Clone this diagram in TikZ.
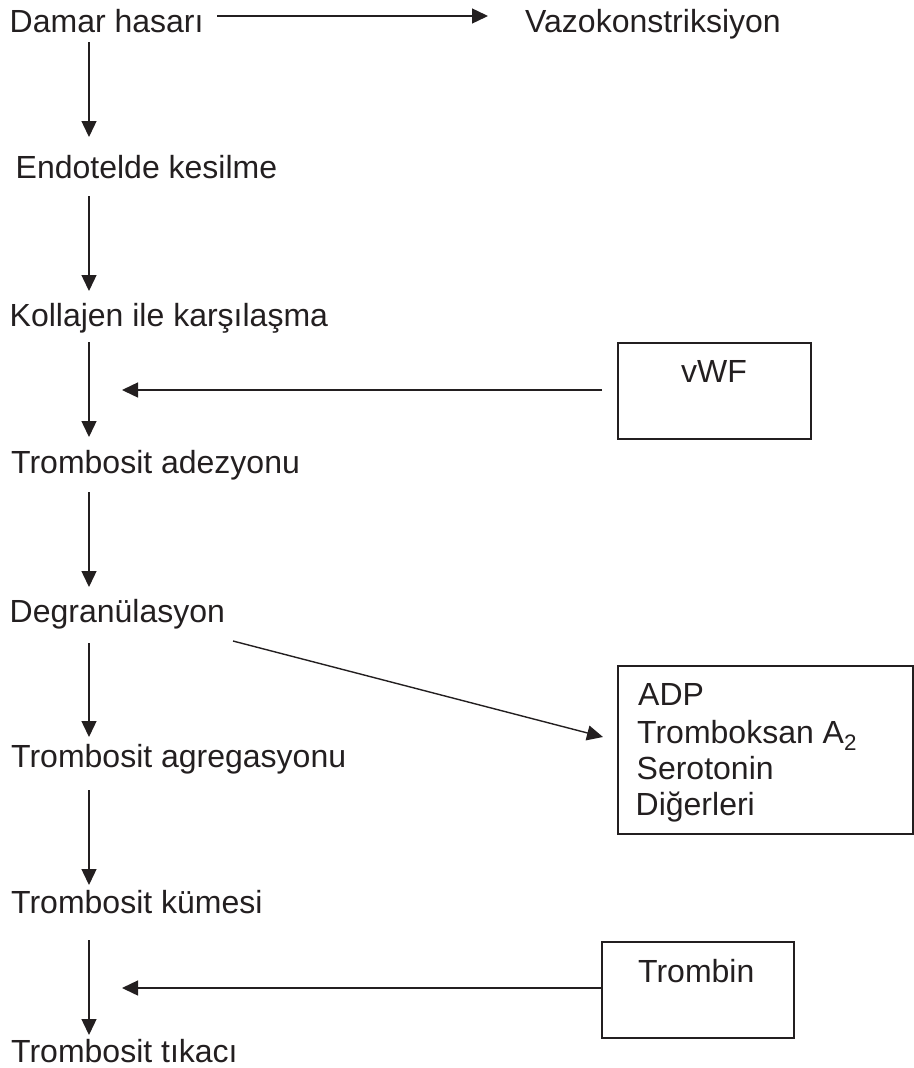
\documentclass[tikz,border=0pt]{standalone}
\usepackage{fontspec}
\setmainfont{Liberation Sans}
\usetikzlibrary{arrows.meta}
\definecolor{ink}{HTML}{231F20}
\begin{document}
\begin{tikzpicture}[x=1pt,y=-1pt,
  lbl/.style={anchor=base west, inner sep=0pt, font=\fontsize{32}{38}\selectfont, text=ink},
  arr/.style={draw=ink, line width=1.4pt, -{Triangle[length=16pt,width=15pt]}},
  boxnode/.style={draw=ink, line width=1.6pt, inner sep=0pt, anchor=north west}]
\useasboundingbox (0,0) rectangle (913,1068);

% texts
\node[lbl] (damar) at (9.5,32) {Damar hasarı};
\node[lbl] (vazo) at (525,32) {Vazokonstriksiyon};
\node[lbl] (endo) at (15.5,178) {Endotelde kesilme};
\node[lbl] (koll) at (9.5,326) {Kollajen ile karşılaşma};
\node[lbl] (adez) at (11,473) {Trombosit adezyonu};
\node[lbl] (degr) at (9.5,622) {Degranülasyon};
\node[lbl] (agre) at (11,767) {Trombosit agregasyonu};
\node[lbl] (kume) at (11,913) {Trombosit kümesi};
\node[lbl] (tika) at (11,1062) {Trombosit tıkacı};

% boxes
\node[boxnode, minimum width=193pt, minimum height=96pt] (vwf) at (617,342) {};
\node[lbl] (vwft) at (681,382) {vWF};
\node[boxnode, minimum width=295pt, minimum height=168pt] (adp) at (617,665) {};
\node[lbl] (adp1) at (638,705) {ADP};
\node[lbl] (adp2) at (637,743) {Tromboksan A\textsubscript{2}};
\node[lbl] (adp3) at (636.5,779) {Serotonin};
\node[lbl] (adp4) at (635.5,815) {Diğerleri};
\node[boxnode, minimum width=192pt, minimum height=96pt] (tromb) at (601,941) {};
\node[lbl] (trombt) at (638,982) {Trombin};

% arrow end points
\coordinate (h1s) at (217,16);   \coordinate (h1e) at (488,16);
\coordinate (a1s) at (89,42);    \coordinate (a1e) at (89,137);
\coordinate (a2s) at (89,196);   \coordinate (a2e) at (89,291);
\coordinate (a3s) at (89,342);   \coordinate (a3e) at (89,437);
\coordinate (a4s) at (89,492);   \coordinate (a4e) at (89,587);
\coordinate (a5s) at (89,643);   \coordinate (a5e) at (89,737);
\coordinate (a6s) at (89,790);   \coordinate (a6e) at (89,885);
\coordinate (a7s) at (89,940);   \coordinate (a7e) at (89,1035);
\coordinate (h2s) at (602,390);  \coordinate (h2e) at (122,390);
\coordinate (h3e) at (122,988);
\coordinate (ds) at (233,641);   \coordinate (de) at (603,737);

% connectors
\draw[arr] (h1s) -- (h1e);
\draw[arr] (a1s) -- (a1e);
\draw[arr] (a2s) -- (a2e);
\draw[arr] (a3s) -- (a3e);
\draw[arr] (a4s) -- (a4e);
\draw[arr] (a5s) -- (a5e);
\draw[arr] (a6s) -- (a6e);
\draw[arr] (a7s) -- (a7e);
\draw[arr] (h2s) -- (h2e);
\draw[arr] (tromb.west |- 0,988) -- (h3e);
\draw[arr] (ds) -- (de);
\end{tikzpicture}
\end{document}
